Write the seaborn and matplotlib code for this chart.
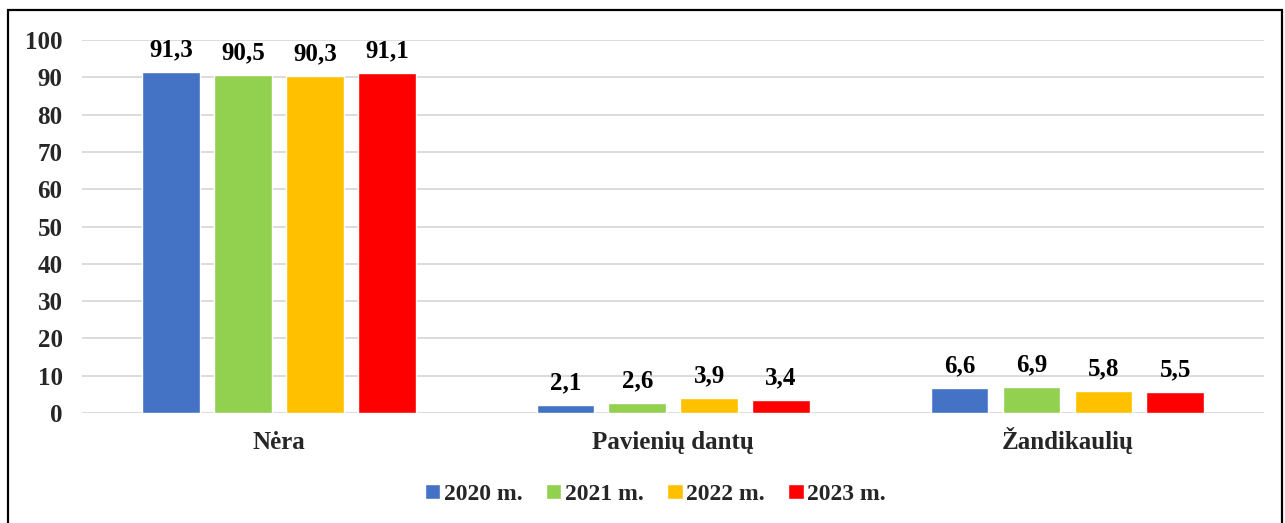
import matplotlib
matplotlib.use("Agg")
import matplotlib.pyplot as plt
import seaborn as sns
import pandas as pd
from matplotlib.patches import Rectangle

categories = ["Nėra", "Pavienių dantų", "Žandikaulių"]
years = ["2020 m.", "2021 m.", "2022 m.", "2023 m."]
v2020 = [91.3, 2.1, 6.6]
v2021 = [90.5, 2.6, 6.9]
v2022 = [90.3, 3.9, 5.8]
v2023 = [91.1, 3.4, 5.5]
colors = ["#4472C4", "#92D050", "#FFC000", "#FF0000"]
yticks = [0, 10, 20, 30, 40, 50, 60, 70, 80, 90, 100]

rows = []
for yr, vals in zip(years, [v2020, v2021, v2022, v2023]):
    for c, v in zip(categories, vals):
        rows.append({"cat": c, "year": yr, "val": v})
df = pd.DataFrame(rows)

sns.set_theme(style="white")
plt.rcParams["font.family"] = ["Liberation Serif", "DejaVu Serif"]
plt.rcParams["font.weight"] = "bold"

fig = plt.figure(figsize=(12.85, 5.23), dpi=100)
ax = fig.add_axes([0.0638, 0.2103, 0.9202, 0.7132])

sns.barplot(data=df, x="cat", y="val", hue="year", palette=colors,
            width=0.73, gap=0.2, ax=ax, legend=True, saturation=1)

for cont in ax.containers:
    labels = [f"{b.get_height():.1f}".replace(".", ",") for b in cont]
    ax.bar_label(cont, labels=labels, padding=8, fontsize=18, fontweight="bold", color="black")

ax.set_ylim(0, 100)
ax.set_xlim(-0.5, 2.5)
ax.set_yticks(yticks)
ax.set_yticklabels([str(t) for t in yticks], fontsize=18, fontweight="bold")
ax.tick_params(axis="x", labelsize=18, pad=26, length=0)
ax.tick_params(axis="y", pad=14, length=0)
for lbl in ax.get_xticklabels():
    lbl.set_fontweight("bold")
    lbl.set_verticalalignment("baseline")
ax.set_xlabel("")
ax.set_ylabel("")
ax.yaxis.grid(True, color="#D9D9D9", linewidth=1.3)
ax.set_axisbelow(True)
for s in ax.spines.values():
    s.set_visible(False)

handles, labs = ax.get_legend_handles_labels()
ax.legend(handles, labs, loc="center", bbox_to_anchor=(0.51, 0.055),
          bbox_transform=fig.transFigure, ncol=4, frameon=False,
          prop={"size": 17, "weight": "bold"}, handlelength=0.65, handleheight=0.65,
          handletextpad=0.15, columnspacing=1.0)

fig.add_artist(Rectangle((8 / 1285, -0.01), 1274 / 1285, 1 - 10 / 523 + 0.01,
                         transform=fig.transFigure, fill=False, edgecolor="black",
                         linewidth=1.6))

fig.savefig("out.png", dpi=100)
